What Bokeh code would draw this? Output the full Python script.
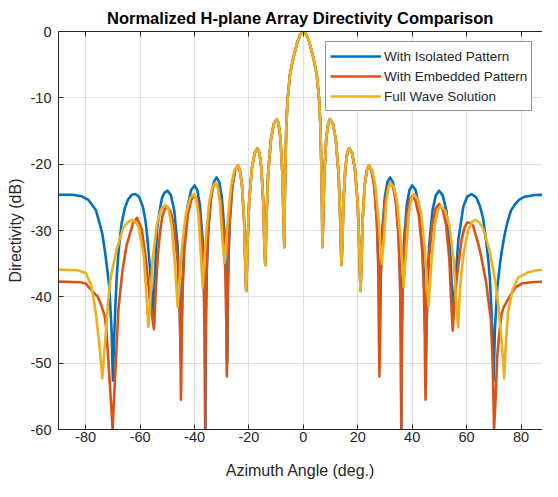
from bokeh.plotting import figure
from bokeh.models import Range1d, LinearAxis, FixedTicker
from bokeh.embed import file_html
from bokeh.resources import INLINE

# ---------------- data ----------------
x_ticks = [-80, -60, -40, -20, 0, 20, 40, 60, 80]
x_tick_labels = ["-80", "-60", "-40", "-20", "0", "20", "40", "60", "80"]
y_ticks = [-60, -50, -40, -30, -20, -10, 0]
y_tick_labels = ["-60", "-50", "-40", "-30", "-20", "-10", "0"]

series_names = ["With Isolated Pattern", "With Embedded Pattern", "Full Wave Solution"]

# central part, common to all three curves
center_deg = [-24.1, -23.33, -22.55, -21.78, -21.39, -21.0, -20.48, -19.96, -18.93, -17.89,
              -16.85, -16.14, -15.43, -14.71, -14.36, -14.0, -13.48, -12.95, -11.9, -10.85,
              -9.8, -9.1, -8.4, -7.7, -7.35, -7.0, -6.85, -6.6, -6.25, -5.75, -4.9, -3.7,
              -2.2, -1.1, 0.0, 1.1, 2.2, 3.7, 4.9, 5.75, 6.25, 6.6, 6.85, 7.0, 7.35, 7.7,
              8.4, 9.1, 9.8, 10.85, 11.9, 12.95, 13.48, 14.0, 14.36, 14.71, 15.43, 16.14,
              16.85, 17.89, 18.93, 19.96, 20.48, 21.0, 21.39, 21.78, 22.55, 23.33, 24.1]
center_db = [-20.2, -20.9, -23.2, -28.5, -34.4, -39.1, -31.8, -25.9, -20.6, -18.3,
             -17.6, -18.3, -20.6, -25.9, -31.8, -35.2, -27.4, -21.5, -16.2, -13.9,
             -13.2, -13.9, -16.2, -21.5, -27.4, -32.5, -26.0, -20.0, -14.0, -10.0, -6.4, -4.0,
             -1.6, -0.4, 0.0, -0.4, -1.6, -4.0, -6.4, -10.0, -14.0, -20.0, -26.0, -32.5, -27.4, -21.5,
             -16.2, -13.9, -13.2, -13.9, -16.2, -21.5, -27.4, -35.2, -31.8, -25.9, -20.6, -18.3,
             -17.6, -18.3, -20.6, -25.9, -31.8, -39.1, -34.4, -28.5, -23.2, -20.9, -20.2]

# With Isolated Pattern (blue)
iso_left_deg = [-90, -85, -81.4, -79, -77.9, -76.3, -74.9, -73.9, -72.9, -72.1, -71.3, -70.5, -70.0,
                -69.6, -69.2, -68.6, -68.0, -66.8, -65.6, -64.4, -63.0, -61.8, -60.4, -59.0, -58.0,
                -57.3, -56.3, -55.2,
                -54.6, -53.7, -52.6, -51.9, -51.0, -49.9, -48.68, -47.45, -46.23, -45.61, -45.29, -45.0,
                -44.7, -44.38, -43.75, -42.5, -41.25, -40.0, -39.0, -38.0, -37.0, -36.5, -36.24, -36.12,
                -36.06, -36.0,
                -35.94, -35.88, -35.75, -35.49, -34.98, -33.95, -32.9, -31.9, -30.9, -29.95, -28.98,
                -28.49, -28.24, -28.0,
                -27.88, -27.77, -27.51, -27.03, -26.05, -25.08]
iso_left_db = [-24.6, -24.6, -24.85, -25.4, -26.0, -26.9, -28.9, -30.5, -33.2, -35.8, -38.6, -45.0, -52.6,
               -47.0, -42.5, -37.0, -33.5, -28.9, -26.6, -25.3, -24.6, -24.5, -24.9, -26.4, -28.6,
               -31.3, -36.0, -42.9,
               -37.0, -29.5, -26.5, -25.0, -24.3, -24.0, -24.7, -27.0, -32.3, -38.2, -44.5, -50.0,
               -43.7, -37.4, -31.5, -26.2, -23.9, -23.2, -23.9, -26.2, -31.5, -37.4, -43.7, -49.7,
               -55.5, -60.0,
               -54.5, -48.5, -42.5, -36.2, -30.3, -25.0, -22.7, -22.0, -22.7, -25.0, -30.3,
               -36.2, -42.5, -50.0,
               -46.7, -40.7, -34.4, -28.5, -23.2, -20.9]
iso_right_deg = [25.08, 26.05, 27.03, 27.51, 27.77, 27.88, 28.0,
                 28.23, 28.48, 28.96, 29.93, 30.89, 31.85, 32.89, 33.93, 34.96, 35.48, 35.75, 35.88,
                 35.94, 36.0,
                 36.06, 36.12, 36.24, 36.5, 37.0, 38.0, 39.0, 40.0, 41.25, 42.5, 43.75, 44.38, 44.7, 45.0,
                 45.29, 45.61, 46.23, 47.45, 48.68, 49.9, 51.23, 52.55, 53.88, 54.54, 55.2,
                 55.9, 57.0, 58.8, 60.2, 61.8, 63.5, 64.8, 66.0, 67.1, 68.0, 68.6, 69.2, 69.6, 69.9,
                 70.4, 71.3, 72.1, 72.9, 73.9, 74.9, 76.3, 77.9, 79.5, 81.4, 85, 90]
iso_right_db = [-20.9, -23.2, -28.5, -34.4, -40.7, -46.7, -50.0,
                -42.5, -36.2, -30.3, -25.0, -22.7, -22.0, -22.7, -25.0, -30.3, -36.2, -42.5, -48.5,
                -54.5, -60.0,
                -55.5, -49.7, -43.7, -37.4, -31.5, -26.2, -23.9, -23.2, -23.9, -26.2, -31.5, -37.4, -43.7, -50.0,
                -44.5, -38.2, -32.3, -27.0, -24.7, -24.0, -24.7, -27.0, -32.3, -38.2, -42.9,
                -37.5, -31.3, -26.4, -24.9, -24.5, -25.0, -26.2, -28.0, -31.3, -34.5, -37.6, -42.5, -47.0, -52.6,
                -45.0, -38.6, -35.6, -33.2, -30.8, -28.9, -27.0, -26.0, -25.3, -24.9, -24.65, -24.6]

# With Embedded Pattern (orange)
emb_left_deg = [-90, -82, -80, -78.1, -76.5, -75.7, -74.5, -73.0, -72.4, -71.8, -71.0, -70.1,
                -69.5, -68.9, -68.0, -66.5, -65.0, -63.8, -62.6, -61.1, -59.4, -57.9, -56.3, -54.9,
                -54.3, -53.5, -52.6, -51.9, -51.0, -50.1, -48.8, -47.5, -46.2, -45.55, -45.2, -45.05, -45.0,
                -44.85, -44.7, -44.38, -43.75, -42.5, -41.25, -40.0, -39.03, -38.05, -37.08, -36.59,
                -36.33, -36.22, -36.16, -36.1,
                -36.04, -35.99, -35.87, -35.63, -35.15, -34.2, -33.25, -32.3, -31.25, -30.2, -29.15,
                -28.63, -28.35, -28.23, -28.1,
                -27.98, -27.86, -27.6, -27.1, -26.1, -25.1]
emb_left_db = [-37.7, -37.8, -38.0, -38.9, -39.6, -39.9, -41.0, -42.9, -45.0, -48.8, -54.0, -60.0,
               -54.5, -49.7, -42.0, -36.1, -32.3, -30.6, -28.9, -28.1, -29.8, -34.2, -41.0, -44.9,
               -39.5, -33.7, -30.0, -28.0, -26.8, -26.4, -27.1, -29.4, -34.7, -40.6, -46.9, -52.9, -55.5,
               -51.2, -45.2, -38.9, -33.0, -27.7, -25.4, -24.7, -25.4, -27.7, -33.0, -38.9,
               -45.2, -51.2, -56.0, -60.0,
               -54.5, -49.3, -43.3, -37.0, -31.1, -25.8, -23.5, -22.8, -23.5, -25.8, -31.1,
               -37.0, -43.3, -49.3, -52.0,
               -46.7, -40.7, -34.4, -28.5, -23.2, -20.9]
emb_right_deg = [25.06, 26.03, 26.99, 27.47, 27.72, 27.83, 27.95,
                 28.07, 28.2, 28.46, 28.96, 29.98, 30.99, 32.0, 33.0, 34.0, 35.0, 35.5, 35.76, 35.88,
                 35.94, 36.0,
                 36.06, 36.12, 36.24, 36.5, 37.0, 38.0, 39.0, 40.0, 41.23, 42.45, 43.68, 44.29, 44.61,
                 44.75, 44.9,
                 45.05, 45.2, 45.53, 46.15, 47.4, 48.65, 49.9, 51.15, 52.4, 53.65, 54.28, 54.9,
                 55.6, 56.4, 58.2, 59.3, 60.2, 61.4, 62.4, 63.3, 64.3, 65.4, 67.1, 68.9, 69.6, 70.1,
                 70.7, 71.3, 72.1, 72.9, 73.7, 76.1, 77.9, 80.2, 83.8, 90]
emb_right_db = [-20.9, -23.2, -28.5, -34.4, -40.7, -46.7, -52.0,
                -49.3, -43.3, -37.0, -31.1, -25.8, -23.5, -22.8, -23.5, -25.8, -31.1, -37.0, -43.3, -49.3,
                -54.5, -60.0,
                -56.0, -51.3, -45.3, -39.0, -33.1, -27.8, -25.5, -24.8, -25.5, -27.8, -33.1, -39.0, -45.3,
                -51.3, -55.5,
                -52.5, -46.5, -40.2, -34.3, -29.0, -26.7, -26.0, -26.7, -29.0, -34.3, -40.2, -45.1,
                -40.5, -37.1, -31.3, -29.5, -28.8, -28.9, -29.3, -30.6, -32.0, -34.0, -37.6, -43.4, -50.0, -60.0,
                -54.9, -48.8, -45.1, -42.5, -41.5, -39.8, -38.6, -38.0, -37.8, -37.7]

# Full Wave Solution (yellow)
fw_left_deg = [-90, -83, -80, -78.1, -77.2, -76.3, -75.1, -73.9,
               -73.2, -72.5, -71.8, -71.0, -70.0, -68.6, -66.2, -64.6, -63.2, -62.0, -60.6, -58.7,
               -57.8, -57.0,
               -56.21, -55.43, -53.85, -52.28, -50.7, -49.58, -48.45, -47.33, -46.2,
               -44.7, -43.2, -41.7, -40.2, -39.4, -38.6, -37.8, -37.0,
               -35.83, -34.65, -33.48, -32.3, -31.48, -30.65, -29.83, -29.0,
               -27.78, -26.55, -25.33]
fw_left_db = [-35.9, -36.0, -36.4, -38.1, -40.0, -42.4, -46.7, -52.3,
              -48.5, -44.9, -41.0, -37.6, -35.5, -32.8, -29.6, -28.8, -28.4, -28.6, -29.4, -33.7,
              -39.0, -44.5,
              -40.3, -34.4, -29.1, -26.8, -26.1, -26.8, -29.1, -34.4, -41.5,
              -32.8, -27.5, -25.2, -24.5, -25.2, -27.5, -32.8, -38.6,
              -31.1, -25.8, -23.5, -22.8, -23.5, -25.8, -31.1, -34.9,
              -28.5, -23.2, -20.9]
fw_right_deg = [25.28, 26.45, 27.63, 28.8,
                29.63, 30.45, 31.28, 32.1, 33.3, 34.5, 35.7, 36.9,
                37.83, 38.75, 39.68, 40.6, 41.95, 43.3, 44.65, 46.0,
                47.13, 48.25, 49.38, 50.5, 52.1, 53.7, 55.3, 56.1, 56.9,
                57.6, 58.8, 60.6, 62.0, 63.3, 64.7, 66.0, 68.3, 69.6, 70.7, 71.7, 72.5, 73.2, 73.8,
                74.5, 75.2, 76.9, 79.0, 82.6, 86, 90]
fw_right_db = [-20.9, -23.2, -28.5, -35.0,
               -31.1, -25.8, -23.5, -22.8, -23.5, -25.8, -31.1, -38.5,
               -32.8, -27.5, -25.2, -24.5, -25.2, -27.5, -32.8, -41.4,
               -34.6, -29.3, -27.0, -26.3, -27.0, -29.3, -34.6, -40.5, -44.6,
               -38.5, -33.7, -29.9, -28.7, -28.4, -28.8, -29.6, -32.8, -35.5, -38.1, -41.5, -44.9, -48.5, -52.3,
               -46.5, -42.4, -38.9, -37.1, -36.3, -36.0, -35.9]

# ---------------- figure ----------------
INK = "#262626"
FONT = "Liberation Sans"

p = figure(width=542, height=481, output_backend="svg", toolbar_location=None,
           x_range=Range1d(-90, 87.9), y_range=Range1d(-60, 0),
           min_border_left=58, min_border_right=0, min_border_top=31, min_border_bottom=51,
           title="Normalized H-plane Array Directivity Comparison")
p.outline_line_color = None
p.background_fill_color = "white"
p.border_fill_color = "white"

p.title.text_font = FONT
p.title.text_font_size = "16.5px"
p.title.text_font_style = "bold"
p.title.text_color = "#000000"
p.title.align = "center"
p.title.standoff = 10

xt = FixedTicker(ticks=x_ticks)
yt = FixedTicker(ticks=y_ticks)

for ax in p.xaxis:
    ax.ticker = xt
    ax.major_label_overrides = dict(zip(x_ticks, x_tick_labels))
    ax.axis_label = "Azimuth Angle (deg.)"
    ax.major_label_standoff = 2
    ax.axis_label_standoff = 17
for ax in p.yaxis:
    ax.ticker = yt
    ax.major_label_overrides = dict(zip(y_ticks, y_tick_labels))
    ax.axis_label = "Directivity (dB)"
    ax.major_label_standoff = 7
    ax.axis_label_standoff = 4

main_axes = list(p.xaxis) + list(p.yaxis)

top_axis = LinearAxis(ticker=xt)
p.add_layout(top_axis, "above")

for ax in main_axes + [top_axis]:
    ax.minor_tick_line_color = None
    ax.major_tick_in = 5
    ax.major_tick_out = 0
    ax.axis_line_color = INK
    ax.major_tick_line_color = INK
    ax.major_label_text_font = FONT
    ax.major_label_text_font_size = "14.5px"
    ax.major_label_text_color = INK
    ax.axis_label_text_font = FONT
    ax.axis_label_text_font_size = "16px"
    ax.axis_label_text_font_style = "normal"
    ax.axis_label_text_color = INK

top_axis.major_label_text_font_size = "0px"
top_axis.major_label_text_alpha = 0
top_axis.major_label_standoff = 0

p.xgrid.ticker = xt
p.ygrid.ticker = yt
for g in (p.xgrid, p.ygrid):
    g.grid_line_color = "#dedede"
    g.grid_line_width = 1

colors = ["#0072BD", "#D95319", "#EDB120"]
iso_deg = iso_left_deg + center_deg + iso_right_deg
iso_db = iso_left_db + center_db + iso_right_db
emb_deg = emb_left_deg + center_deg + emb_right_deg
emb_db = emb_left_db + center_db + emb_right_db
fw_deg = fw_left_deg + center_deg + fw_right_deg
fw_db = fw_left_db + center_db + fw_right_db

for xs, ys, c, name in zip([iso_deg, emb_deg, fw_deg], [iso_db, emb_db, fw_db], colors, series_names):
    p.line(xs, ys, line_color=c, line_width=2.6, line_join="round", legend_label=name)

lg = p.legend[0]
lg.location = (267, 318)
lg.padding = 4
lg.spacing = 0
lg.margin = 0
lg.label_height = 20
lg.glyph_height = 20
lg.glyph_width = 51
lg.label_standoff = 3
lg.label_text_font = FONT
lg.label_text_font_size = "13.5px"
lg.label_text_color = INK
lg.border_line_color = INK
lg.border_line_width = 1
lg.background_fill_color = "white"
lg.background_fill_alpha = 1.0

open("out.html", "w").write(file_html(p, INLINE))
